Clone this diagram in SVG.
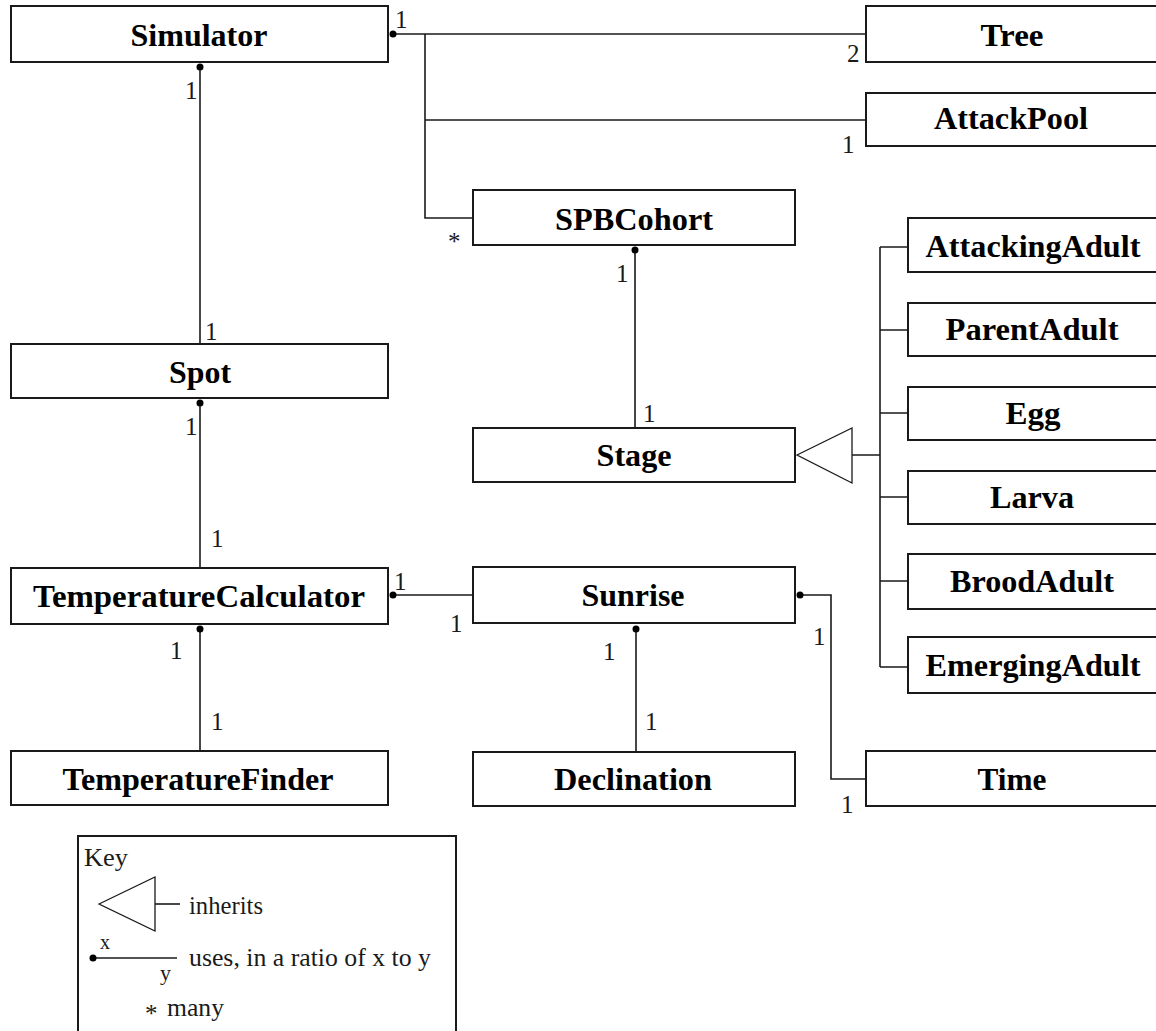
<svg xmlns="http://www.w3.org/2000/svg" width="1156" height="1031" viewBox="0 0 1156 1031">
  <style>
    .box { fill: #fff; stroke: #1a1a1a; stroke-width: 2; }
    .name { font-family: 'Liberation Serif', 'Times New Roman', serif; font-weight: bold; font-size: 31px; fill: #000; text-anchor: middle; }
    .lbl { font-family: 'Liberation Serif', 'Times New Roman', serif; font-size: 25px; fill: #1a1a1a; }
    .wire { fill: none; stroke: #1a1a1a; stroke-width: 1.6; }
    .tri { fill: #fff; stroke: #1a1a1a; stroke-width: 1.3; }
    .dot { fill: #000; }
  </style>

  <!-- connectors -->
  <g id="connectors">
    <!-- Simulator bus to Tree, AttackPool, SPBCohort -->
    <path class="wire" d="M393,34 H866 M425,34 V218 H473 M425,120 H866"/>
    <circle class="dot" cx="393" cy="34" r="3.5"/>
    <text class="lbl" x="395" y="28">1</text>
    <text class="lbl" x="847" y="62">2</text>
    <text class="lbl" x="842" y="153">1</text>
    <text class="lbl" x="448" y="250">*</text>

    <!-- Simulator to Spot -->
    <path class="wire" d="M200,67 V344"/>
    <circle class="dot" cx="200" cy="67" r="3.5"/>
    <text class="lbl" x="185" y="99">1</text>
    <text class="lbl" x="205" y="340">1</text>

    <!-- Spot to TemperatureCalculator -->
    <path class="wire" d="M200,403 V568"/>
    <circle class="dot" cx="200" cy="403" r="3.5"/>
    <text class="lbl" x="185" y="435">1</text>
    <text class="lbl" x="211" y="547">1</text>

    <!-- TemperatureCalculator to Sunrise -->
    <path class="wire" d="M393,595 H473"/>
    <circle class="dot" cx="393" cy="595" r="3.5"/>
    <text class="lbl" x="394" y="590">1</text>
    <text class="lbl" x="450" y="632">1</text>

    <!-- TemperatureCalculator to TemperatureFinder -->
    <path class="wire" d="M200,629 V751"/>
    <circle class="dot" cx="200" cy="629" r="3.5"/>
    <text class="lbl" x="170" y="659">1</text>
    <text class="lbl" x="211" y="730">1</text>

    <!-- Sunrise to Declination -->
    <path class="wire" d="M636,629 V752"/>
    <circle class="dot" cx="636" cy="629" r="3.5"/>
    <text class="lbl" x="603" y="660">1</text>
    <text class="lbl" x="645" y="730">1</text>

    <!-- Sunrise to Time -->
    <path class="wire" d="M800,595 H831 V779 H866"/>
    <circle class="dot" cx="800" cy="595" r="3.5"/>
    <text class="lbl" x="813" y="645">1</text>
    <text class="lbl" x="841" y="813">1</text>

    <!-- SPBCohort to Stage -->
    <path class="wire" d="M635,250 V428"/>
    <circle class="dot" cx="635" cy="250" r="3.5"/>
    <text class="lbl" x="616" y="282">1</text>
    <text class="lbl" x="643" y="422">1</text>

    <!-- inheritance tree into Stage -->
    <polygon class="tri" points="797,455 852,428 852,483"/>
    <path class="wire" d="M852,455 H880 M880,247 V667 M880,247 H908 M880,330 H908 M880,413 H908 M880,497 H908 M880,581 H908 M880,667 H908"/>
  </g>

  <!-- left column -->
  <g id="simulator">
    <rect class="box" x="11" y="6" width="377" height="56"/>
    <text class="name" x="199" y="46" textLength="137" lengthAdjust="spacingAndGlyphs">Simulator</text>
  </g>
  <g id="spot">
    <rect class="box" x="11" y="344" width="377" height="54"/>
    <text class="name" x="200" y="383" textLength="62" lengthAdjust="spacingAndGlyphs">Spot</text>
  </g>
  <g id="temperature-calculator">
    <rect class="box" x="11" y="568" width="377" height="56"/>
    <text class="name" x="199" y="607" textLength="332" lengthAdjust="spacingAndGlyphs">TemperatureCalculator</text>
  </g>
  <g id="temperature-finder">
    <rect class="box" x="11" y="751" width="377" height="54"/>
    <text class="name" x="198" y="790" textLength="271" lengthAdjust="spacingAndGlyphs">TemperatureFinder</text>
  </g>

  <!-- middle column -->
  <g id="spb-cohort">
    <rect class="box" x="473" y="190" width="322" height="55"/>
    <text class="name" x="634" y="230" textLength="158" lengthAdjust="spacingAndGlyphs">SPBCohort</text>
  </g>
  <g id="stage">
    <rect class="box" x="473" y="428" width="322" height="54"/>
    <text class="name" x="634" y="466" textLength="75" lengthAdjust="spacingAndGlyphs">Stage</text>
  </g>
  <g id="sunrise">
    <rect class="box" x="473" y="567" width="322" height="56"/>
    <text class="name" x="633" y="606" textLength="103" lengthAdjust="spacingAndGlyphs">Sunrise</text>
  </g>
  <g id="declination">
    <rect class="box" x="473" y="752" width="322" height="54"/>
    <text class="name" x="633" y="790" textLength="158" lengthAdjust="spacingAndGlyphs">Declination</text>
  </g>

  <!-- right column (boxes run past the right edge) -->
  <g id="tree">
    <rect class="box" x="866" y="6" width="320" height="56"/>
    <text class="name" x="1012" y="46" textLength="63" lengthAdjust="spacingAndGlyphs">Tree</text>
  </g>
  <g id="attack-pool">
    <rect class="box" x="866" y="93" width="320" height="53"/>
    <text class="name" x="1011" y="129" textLength="154" lengthAdjust="spacingAndGlyphs">AttackPool</text>
  </g>
  <g id="time">
    <rect class="box" x="866" y="751" width="320" height="55"/>
    <text class="name" x="1012" y="790" textLength="69" lengthAdjust="spacingAndGlyphs">Time</text>
  </g>

  <!-- Stage subclasses -->
  <g id="attacking-adult">
    <rect class="box" x="908" y="218" width="280" height="54"/>
    <text class="name" x="1033" y="257" textLength="215" lengthAdjust="spacingAndGlyphs">AttackingAdult</text>
  </g>
  <g id="parent-adult">
    <rect class="box" x="908" y="303" width="280" height="53"/>
    <text class="name" x="1032" y="340" textLength="173" lengthAdjust="spacingAndGlyphs">ParentAdult</text>
  </g>
  <g id="egg">
    <rect class="box" x="908" y="387" width="280" height="53"/>
    <text class="name" x="1033" y="424" textLength="55" lengthAdjust="spacingAndGlyphs">Egg</text>
  </g>
  <g id="larva">
    <rect class="box" x="908" y="471" width="280" height="53"/>
    <text class="name" x="1032" y="508" textLength="84" lengthAdjust="spacingAndGlyphs">Larva</text>
  </g>
  <g id="brood-adult">
    <rect class="box" x="908" y="554" width="280" height="55"/>
    <text class="name" x="1032" y="592" textLength="164" lengthAdjust="spacingAndGlyphs">BroodAdult</text>
  </g>
  <g id="emerging-adult">
    <rect class="box" x="908" y="637" width="280" height="56"/>
    <text class="name" x="1033" y="676" textLength="215" lengthAdjust="spacingAndGlyphs">EmergingAdult</text>
  </g>

  <!-- legend -->
  <g id="key">
    <rect class="box" x="78" y="836" width="378" height="220"/>
    <text class="lbl" x="84" y="866" textLength="44" lengthAdjust="spacingAndGlyphs">Key</text>
    <polygon class="tri" points="99,904 155,877 155,931"/>
    <path class="wire" d="M155,904 H180"/>
    <text class="lbl" x="189" y="914" textLength="74" lengthAdjust="spacingAndGlyphs">inherits</text>
    <path class="wire" d="M93,958 H177"/>
    <circle class="dot" cx="93" cy="958" r="3.5"/>
    <text class="lbl" x="100" y="949" style="font-size:20px">x</text>
    <text class="lbl" x="160" y="980" style="font-size:22px">y</text>
    <text class="lbl" x="189" y="966" textLength="242" lengthAdjust="spacingAndGlyphs">uses, in a ratio of x to y</text>
    <text class="lbl" x="145" y="1022">*</text>
    <text class="lbl" x="167" y="1016" textLength="57" lengthAdjust="spacingAndGlyphs">many</text>
  </g>
</svg>
